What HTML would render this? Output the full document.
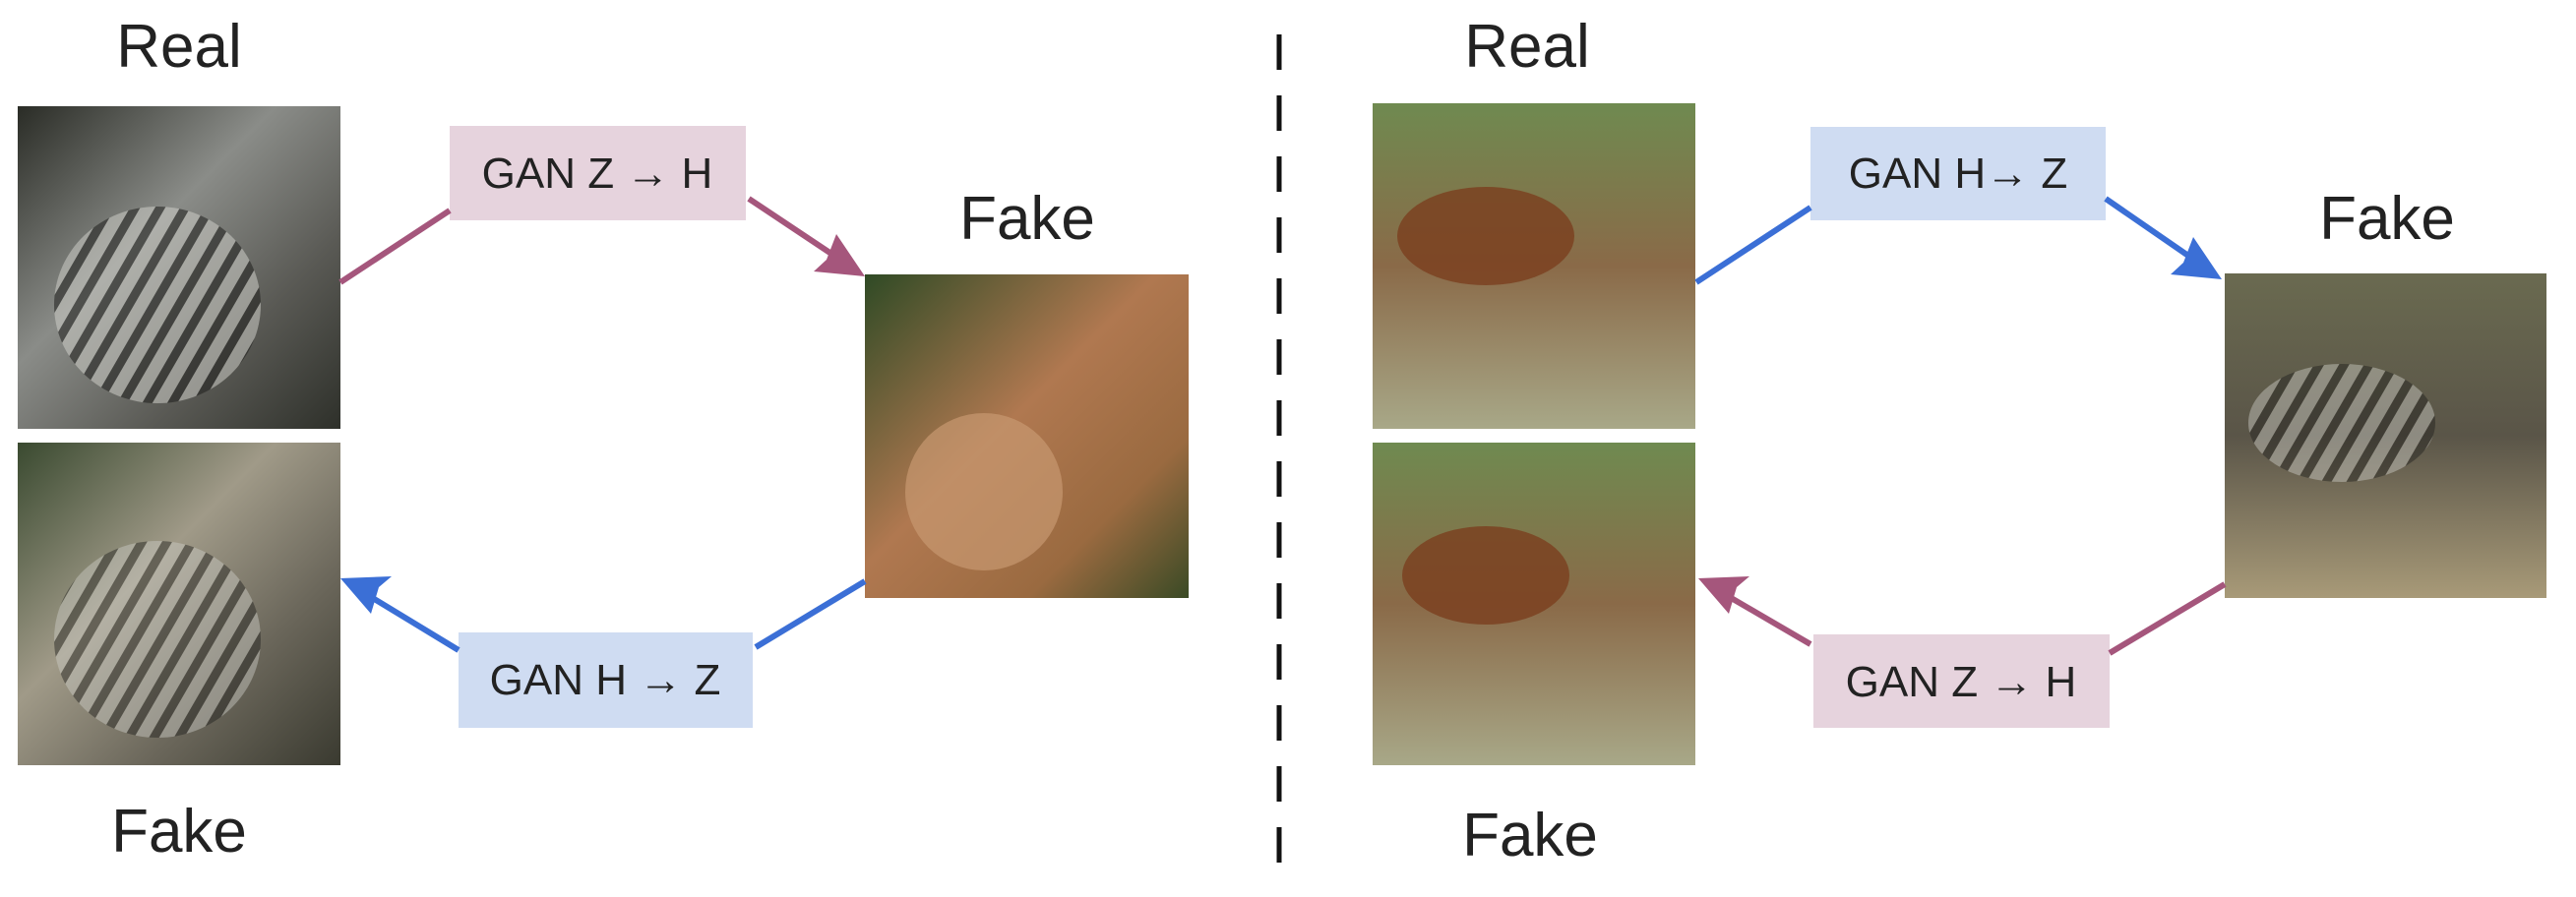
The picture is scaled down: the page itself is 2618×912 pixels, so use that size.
<!DOCTYPE html>
<html><head><meta charset="utf-8"><style>
html,body{margin:0;padding:0;background:#fff;}
svg{display:block}
text{font-family:"Liberation Sans",sans-serif;fill:#222}
</style></head><body>
<svg width="2618" height="912" viewBox="0 0 2618 912" xmlns="http://www.w3.org/2000/svg">
<defs>
<linearGradient id="zeb" x1="0" y1="0" x2="1" y2="1">
<stop offset="0" stop-color="#2a2c26"/><stop offset="0.4" stop-color="#8a8c88"/><stop offset="0.7" stop-color="#5a5a55"/><stop offset="1" stop-color="#2e302a"/></linearGradient>
<linearGradient id="zeb2" x1="0" y1="0" x2="1" y2="1">
<stop offset="0" stop-color="#3a4a30"/><stop offset="0.4" stop-color="#a09a88"/><stop offset="0.7" stop-color="#6a665a"/><stop offset="1" stop-color="#3a3a30"/></linearGradient>
<linearGradient id="hz" x1="0" y1="0" x2="1" y2="1">
<stop offset="0" stop-color="#2f4a25"/><stop offset="0.45" stop-color="#b07850"/><stop offset="0.75" stop-color="#9a6a40"/><stop offset="1" stop-color="#3a4a25"/></linearGradient>
<linearGradient id="hr" x1="0" y1="0" x2="0" y2="1">
<stop offset="0" stop-color="#6f8a50"/><stop offset="0.5" stop-color="#8a6a48"/><stop offset="1" stop-color="#a8a888"/></linearGradient>
<linearGradient id="zr" x1="0" y1="0" x2="0" y2="1">
<stop offset="0" stop-color="#6a6a50"/><stop offset="0.5" stop-color="#5a5548"/><stop offset="1" stop-color="#a89a78"/></linearGradient>
<pattern id="stripes" width="22" height="22" patternUnits="userSpaceOnUse" patternTransform="rotate(30)">
<rect width="22" height="22" fill="#ccccc6"/><rect width="9" height="22" fill="#1e1e1c"/></pattern>
</defs>

<!-- LEFT -->
<text x="182" y="68" font-size="62" text-anchor="middle">Real</text>
<rect x="18" y="108" width="328" height="328" fill="url(#zeb)"/>
<ellipse cx="160" cy="310" rx="105" ry="100" fill="url(#stripes)" opacity="0.55"/>
<rect x="18" y="450" width="328" height="328" fill="url(#zeb2)"/>
<ellipse cx="160" cy="650" rx="105" ry="100" fill="url(#stripes)" opacity="0.45"/>
<text x="182" y="866" font-size="62" text-anchor="middle">Fake</text>

<rect x="457" y="128" width="301" height="96" fill="#e6d3dd"/>
<text x="607" y="191" font-size="44" text-anchor="middle">GAN Z → H</text>
<rect x="466" y="643" width="299" height="97" fill="#cfdcf2"/>
<text x="615" y="706" font-size="44" text-anchor="middle">GAN H → Z</text>

<text x="1044" y="243" font-size="62" text-anchor="middle">Fake</text>
<rect x="879" y="279" width="329" height="329" fill="url(#hz)"/>
<ellipse cx="1000" cy="500" rx="80" ry="80" fill="#c89870" opacity="0.7"/>

<g stroke="#a5567c" stroke-width="6" fill="none">
<line x1="346" y1="287" x2="457" y2="214"/>
<line x1="761" y1="202" x2="860" y2="268"/>
</g>
<polygon points="879,281 827,276 840,264 850,238" fill="#a5567c"/>
<g stroke="#3b6fd6" stroke-width="6" fill="none">
<line x1="879" y1="591" x2="768" y2="658"/>
<line x1="466" y1="661" x2="364" y2="599"/>
</g>
<polygon points="346,588 398,586 385,597 377,624" fill="#3b6fd6"/>

<line x1="1300" y1="35" x2="1300" y2="900" stroke="#111" stroke-width="5" stroke-dasharray="36,26"/>

<!-- RIGHT -->
<text x="1552" y="68" font-size="62" text-anchor="middle">Real</text>
<rect x="1395" y="105" width="328" height="331" fill="url(#hr)"/>
<ellipse cx="1510" cy="240" rx="90" ry="50" fill="#7a3e1e" opacity="0.8"/>
<rect x="1395" y="450" width="328" height="328" fill="url(#hr)"/>
<ellipse cx="1510" cy="585" rx="85" ry="50" fill="#7a3e1e" opacity="0.8"/>
<text x="1555" y="870" font-size="62" text-anchor="middle">Fake</text>

<rect x="1840" y="129" width="300" height="95" fill="#cfdcf2"/>
<text x="1990" y="191" font-size="44" text-anchor="middle">GAN H→ Z</text>
<rect x="1843" y="645" width="301" height="95" fill="#e6d3dd"/>
<text x="1993" y="708" font-size="44" text-anchor="middle">GAN Z → H</text>

<text x="2426" y="243" font-size="62" text-anchor="middle">Fake</text>
<rect x="2261" y="278" width="327" height="330" fill="url(#zr)"/>
<ellipse cx="2380" cy="430" rx="95" ry="60" fill="url(#stripes)" opacity="0.45"/>

<g stroke="#3b6fd6" stroke-width="6" fill="none">
<line x1="1724" y1="287" x2="1840" y2="211"/>
<line x1="2140" y1="202" x2="2240" y2="271"/>
</g>
<polygon points="2258,284 2206,279 2219,267 2229,241" fill="#3b6fd6"/>
<g stroke="#a5567c" stroke-width="6" fill="none">
<line x1="2261" y1="594" x2="2144" y2="664"/>
<line x1="1840" y1="655" x2="1744" y2="599"/>
</g>
<polygon points="1726,588 1778,586 1765,597 1757,624" fill="#a5567c"/>
</svg>
</body></html>
